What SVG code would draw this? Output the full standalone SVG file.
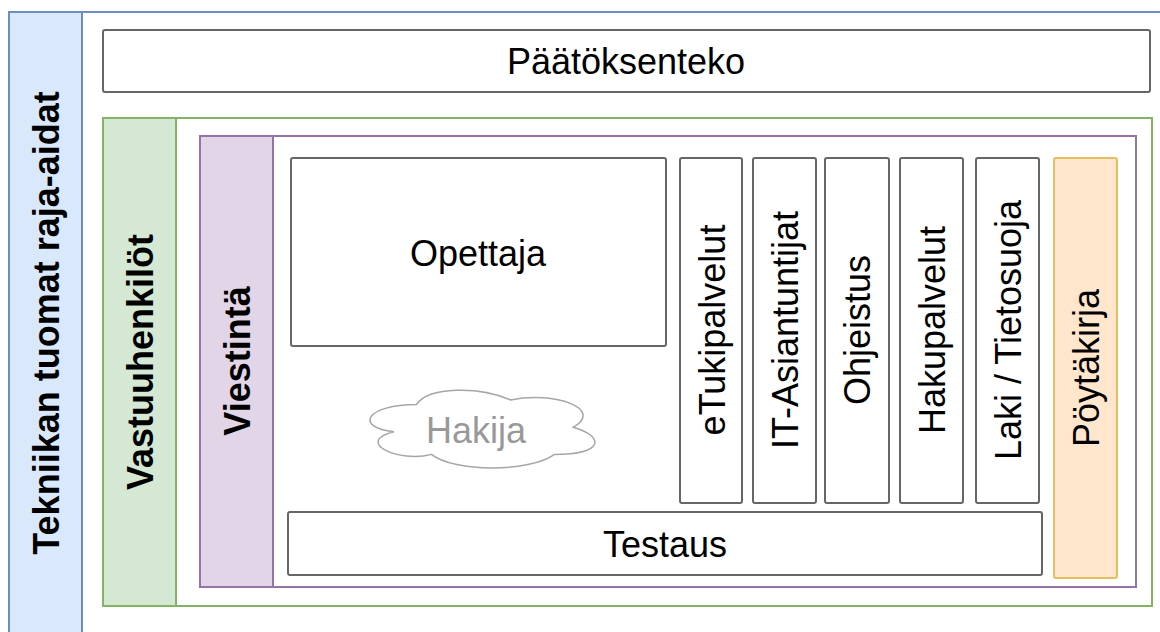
<svg xmlns="http://www.w3.org/2000/svg" width="1160" height="632" viewBox="0 0 1160 632">
<style>
text{font-family:"Liberation Sans",Arial,Helvetica,sans-serif;font-size:36px;fill:#000;text-anchor:middle;dominant-baseline:central}
.b{font-weight:bold}
.box{fill:#fff;stroke:#666;stroke-width:2}
.blue{fill:#dae8fc;stroke:#6c8ebf;stroke-width:2}
.green{fill:#d5e8d4;stroke:#82b366;stroke-width:2}
.purple{fill:#e1d5e7;stroke:#9673a6;stroke-width:2}
.white{fill:#fff}
</style>
<rect width="1160" height="632" fill="#fff"/>
<g id="pool-tekniikka">
<rect class="white" x="9" y="12" width="1200" height="700" stroke="#6c8ebf" stroke-width="2"/>
<rect class="blue" x="9" y="12" width="73" height="700"/>
<text class="b" transform="translate(46 323) rotate(-90)">Tekniikan tuomat raja-aidat</text>
</g>
<g id="paatoksenteko">
<rect class="box" x="103" y="30" width="1047" height="62" rx="2"/>
<text x="626" y="61">Päätöksenteko</text>
</g>
<g id="pool-vastuuhenkilot">
<rect class="white" x="103" y="118" width="1049" height="488" stroke="#82b366" stroke-width="2"/>
<rect class="green" x="103" y="118" width="73" height="488"/>
<text class="b" transform="translate(140 362) rotate(-90)">Vastuuhenkilöt</text>
</g>
<g id="pool-viestinta">
<rect class="white" x="200" y="136" width="936" height="451" stroke="#9673a6" stroke-width="2"/>
<rect class="purple" x="200" y="136" width="73" height="451"/>
<text class="b" transform="translate(237 361) rotate(-90)">Viestintä</text>
</g>
<g id="opettaja">
<rect class="box" x="291" y="158" width="375" height="188" rx="2"/>
<text x="478" y="253">Opettaja</text>
</g>
<g id="hakija">
<path d="M416.5,404.5 C366.3,404.5 353.7,427.2 393.9,431.7 C353.7,441.7 398.9,463.5 431.5,454.4 C454.1,472.5 529.4,472.5 554.5,454.4 C604.7,454.4 604.7,436.3 573.3,427.2 C604.7,409.0 554.5,390.9 510.6,400.0 C479.2,386.4 429.0,386.4 416.5,404.5 Z" fill="#fff" stroke="#a6a6a6" stroke-width="1.5"/>
<text x="476" y="430" style="fill:#999">Hakija</text>
</g>
<g id="etukipalvelut">
<rect class="box" x="680" y="158" width="62" height="345" rx="2"/>
<text transform="translate(712 330) rotate(-90)">eTukipalvelut</text>
</g>
<g id="it-asiantuntijat">
<rect class="box" x="753" y="158" width="63" height="345" rx="2"/>
<text transform="translate(785 330) rotate(-90)">IT-Asiantuntijat</text>
</g>
<g id="ohjeistus">
<rect class="box" x="825" y="158" width="64" height="345" rx="2"/>
<text transform="translate(857 330) rotate(-90)">Ohjeistus</text>
</g>
<g id="hakupalvelut">
<rect class="box" x="900" y="158" width="63" height="345" rx="2"/>
<text transform="translate(932 330) rotate(-90)">Hakupalvelut</text>
</g>
<g id="laki-tietosuoja">
<rect class="box" x="976" y="158" width="63" height="345" rx="2"/>
<text transform="translate(1008 330) rotate(-90)">Laki / Tietosuoja</text>
</g>
<g id="poytakirja">
<rect x="1054" y="158" width="63" height="420" rx="2" fill="#ffe6cc" stroke="#e3bf5f" stroke-width="2"/>
<text transform="translate(1086 368) rotate(-90)">Pöytäkirja</text>
</g>
<g id="testaus">
<rect class="box" x="288" y="512" width="754" height="63" rx="2"/>
<text x="665" y="544">Testaus</text>
</g>
<g id="connectors"></g>
</svg>
